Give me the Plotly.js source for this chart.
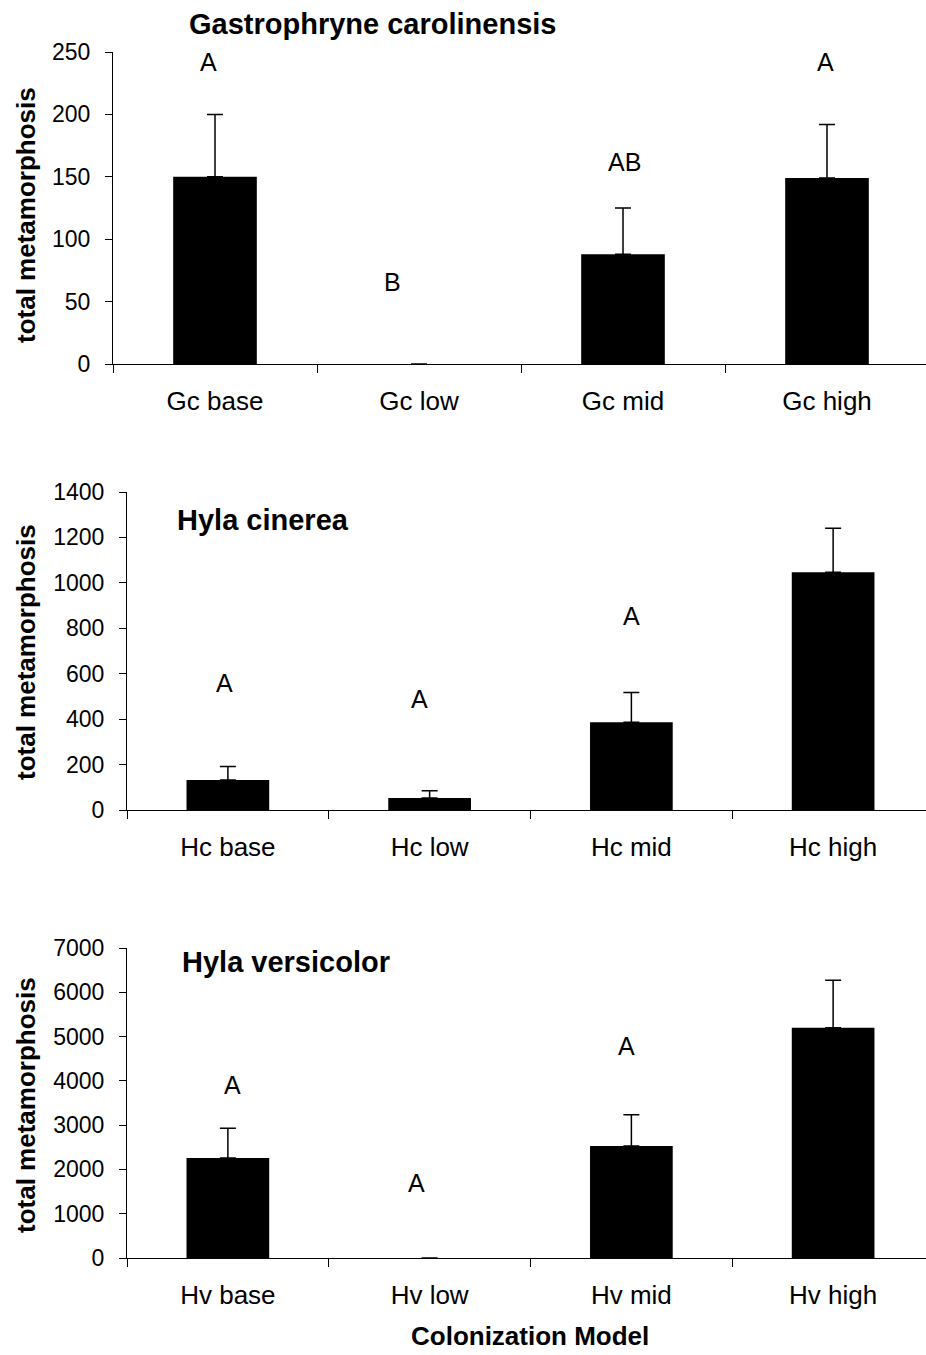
<!DOCTYPE html>
<html>
<head>
<meta charset="utf-8">
<script src="https://cdn.plot.ly/plotly-3.0.1.min.js"></script>
<style>
html, body { margin: 0; padding: 0; overflow: hidden; background: #fff; }
#chart { width: 940px; height: 1355px; }
</style>
</head>
<body>
<div id="chart"></div>
<script>
// ---- Data ----
const gcCats = ['Gc base', 'Gc low', 'Gc mid', 'Gc high'];
const gcVals = [150, 0, 88, 149];
const gcErr = [50, 0, 37, 43];
const gcLetters = ['A', 'B', 'AB', 'A'];
const gcLetterY = [242, 66, 162, 242];
const gcLetterDx = [-0.03, -0.13, 0.005, -0.005];

const hcCats = ['Hc base', 'Hc low', 'Hc mid', 'Hc high'];
const hcVals = [132, 53, 386, 1047];
const hcErr = [59, 32, 131, 193];
const hcLetters = ['A', 'A', 'A', 'B'];
const hcLetterY = [558, 489, 856, 1537];
const hcLetterDx = [-0.015, -0.05, 0, -0.045];

const hvCats = ['Hv base', 'Hv low', 'Hv mid', 'Hv high'];
const hvVals = [2258, 0, 2529, 5201];
const hvErr = [670, 0, 708, 1069];
const hvLetters = ['A', 'A', 'A', 'B'];
const hvLetterY = [3914, 1694, 4787, 7632];
const hvLetterDx = [0.025, -0.065, -0.025, 0.005];

const panelTitles = ['Gastrophryne carolinensis', 'Hyla cinerea', 'Hyla versicolor'];
const yTitle = 'total metamorphosis';
const xTitle = 'Colonization Model';
const yRanges = [[0, 250], [0, 1400], [0, 7000]];
const yDticks = [50, 200, 1000];

// ---- Layout helpers ----
const W = 940, H = 1355;
const px = x => x / W;
const py = y => 1 - y / H;
const FONT = '"Liberation Sans", Arial, sans-serif';

const panels = [
  {cats: gcCats, vals: gcVals, err: gcErr, letters: gcLetters, ly: gcLetterY, ldx: gcLetterDx},
  {cats: hcCats, vals: hcVals, err: hcErr, letters: hcLetters, ly: hcLetterY, ldx: hcLetterDx},
  {cats: hvCats, vals: hvVals, err: hvErr, letters: hvLetters, ly: hvLetterY, ldx: hvLetterDx}
];

const xDomains = [[px(113), px(929)], [px(127), px(934)], [px(127), px(934)]];
const yDomains = [[py(364), py(52)], [py(810), py(492)], [py(1258), py(948)]];
const titlePos = [[187, 24], [175, 520], [180, 962]];
const yTitleY = [215, 652, 1105];

const traces = [];
const annotations = [];
const layout = {
  width: W, height: H,
  margin: {l: 0, r: 0, t: 0, b: 0},
  paper_bgcolor: '#fff', plot_bgcolor: '#fff',
  showlegend: false,
  bargap: 0.59,
  font: {family: FONT, color: '#000'}
};

panels.forEach((p, i) => {
  const n = i === 0 ? '' : String(i + 1);
  traces.push({
    type: 'bar',
    x: p.cats, y: p.vals,
    xaxis: 'x' + n, yaxis: 'y' + n,
    marker: {color: '#000', line: {width: 0}},
    error_y: {type: 'data', symmetric: false, array: p.err,
              arrayminus: p.vals.map(() => 0), color: '#000', thickness: 1.5, width: 8},
    hoverinfo: 'x+y'
  });
  layout['xaxis' + n] = {
    domain: xDomains[i], anchor: 'y' + n, type: 'category',
    range: [-0.5, 3.5], showline: true, linecolor: '#000', linewidth: 1,
    ticks: 'outside', tickson: 'boundaries', ticklen: 8, tickcolor: '#000', tickwidth: 1,
    showgrid: false, zeroline: false, fixedrange: true,
    tickfont: {family: FONT, size: 26, color: '#000'}, ticklabelstandoff: 14
  };
  layout['yaxis' + n] = {
    domain: yDomains[i], anchor: 'x' + n,
    range: yRanges[i], dtick: yDticks[i], tick0: 0,
    showline: true, linecolor: '#000', linewidth: 1,
    ticks: 'outside', ticklen: 7, tickcolor: '#000', tickwidth: 1,
    showgrid: false, zeroline: false, fixedrange: true,
    tickfont: {family: FONT, size: 23, color: '#000'}, ticklabelstandoff: 10
  };
  // significance letters
  p.letters.forEach((L, j) => {
    annotations.push({
      xref: 'x' + n, yref: 'y' + n, x: j + p.ldx[j], y: p.ly[j],
      text: L, showarrow: false, xanchor: 'center', yanchor: 'middle',
      font: {family: FONT, size: 25, color: '#000'}
    });
  });
  // panel title
  annotations.push({
    xref: 'paper', yref: 'paper', x: px(titlePos[i][0]), y: py(titlePos[i][1]),
    text: '<b>' + panelTitles[i] + '</b>', showarrow: false,
    xanchor: 'left', yanchor: 'middle',
    font: {family: FONT, size: 29, color: '#000'}
  });
  // y axis title
  annotations.push({
    xref: 'paper', yref: 'paper', x: px(26), y: py(yTitleY[i]),
    text: '<b>' + yTitle + '</b>', showarrow: false, textangle: -90,
    xanchor: 'center', yanchor: 'middle',
    font: {family: FONT, size: 26, color: '#000'}
  });
});

// x axis title (kept fully inside the page)
annotations.push({
  xref: 'paper', yref: 'paper', x: px(530), y: 0.002,
  text: '<b>' + xTitle + '</b>', showarrow: false,
  xanchor: 'center', yanchor: 'bottom', borderpad: 0,
  font: {family: FONT, size: 26, color: '#000'}
});

layout.annotations = annotations;

Plotly.newPlot('chart', traces, layout, {displayModeBar: false, staticPlot: true});
</script>
</body>
</html>
